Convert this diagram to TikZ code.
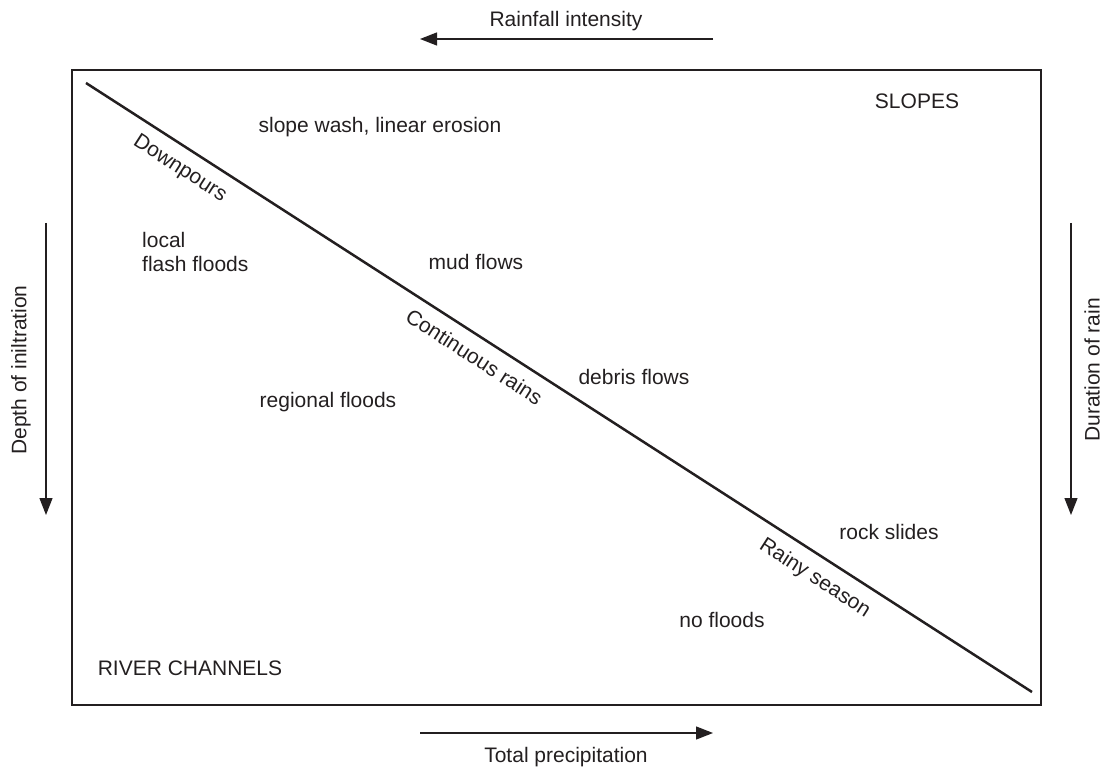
\documentclass[tikz,border=0pt]{standalone}
\usepackage{fontspec}
\setmainfont{Liberation Sans}
\usepackage{tikz}
\usetikzlibrary{calc,positioning,arrows.meta}
\definecolor{inkgray}{RGB}{35,31,32}
\tikzset{
  lbl/.style={font=\fontsize{21}{24}\selectfont,text=inkgray,inner sep=1pt},
  axisarrow/.style={inkgray,line width=1.3pt,-{Triangle[length=17pt,width=13pt]}},
  diag/.style={sloped,below=10pt,lbl}
}

\begin{document}
\begin{tikzpicture}[x=1pt,y=-1pt]
        \useasboundingbox (0,0) rectangle (1104,767);
        % frame and dividing line
        \draw[inkgray,line width=1.3pt] (72,70) rectangle (1041,705);
        \coordinate (dA) at (86,83);
        \coordinate (dB) at (1032,692);
        \draw[inkgray,line width=2.5pt] (dA) -- (dB)
          node[diag,pos=0.1115] (downpours) {Downpours}
          node[diag,pos=0.422] (contrains) {Continuous rains}
          node[diag,pos=0.783] (rainyseason) {Rainy season};
        % axes outside the frame
        \coordinate (topA) at (713,39);
        \coordinate (topB) at (420,39);
        \coordinate (botA) at (420,733);
        \coordinate (botB) at (713,733);
        \coordinate (leftA) at (46,223);
        \coordinate (leftB) at (46,515);
        \coordinate (rightA) at (1071,223);
        \coordinate (rightB) at (1071,515);
        \draw[axisarrow] (topA) -- (topB);
        \draw[axisarrow] (botA) -- (botB);
        \draw[axisarrow] (leftA) -- (leftB);
        \draw[axisarrow] (rightA) -- (rightB);
        \node[lbl] (rainint) at (566,21) {Rainfall intensity};
        \node[lbl] (totprec) at (566,757) {Total precipitation};
        \node[lbl,rotate=90] (depth) at (21,370) {Depth of iniltration};
        \node[lbl,rotate=90] (duration) at (1092,370) {Duration of rain};
        % regions
        \node[lbl] (slopes) at (917,101) {SLOPES};
        \node[lbl] (channels) at (190,668) {RIVER CHANNELS};
        \node[lbl] (wash) at (380,127) {slope wash, linear erosion};
        \node[lbl,anchor=west,align=left] (flash) at (141,252) {local\\flash floods};
        \node[lbl] (mud) at (476,262) {mud flows};
        \node[lbl] (debris) at (634,377) {debris flows};
        \node[lbl] (regional) at (328,402) {regional floods};
        \node[lbl] (rock) at (889,532) {rock slides};
        \node[lbl] (nofloods) at (722,620) {no floods};
      \end{tikzpicture}
\end{document}
